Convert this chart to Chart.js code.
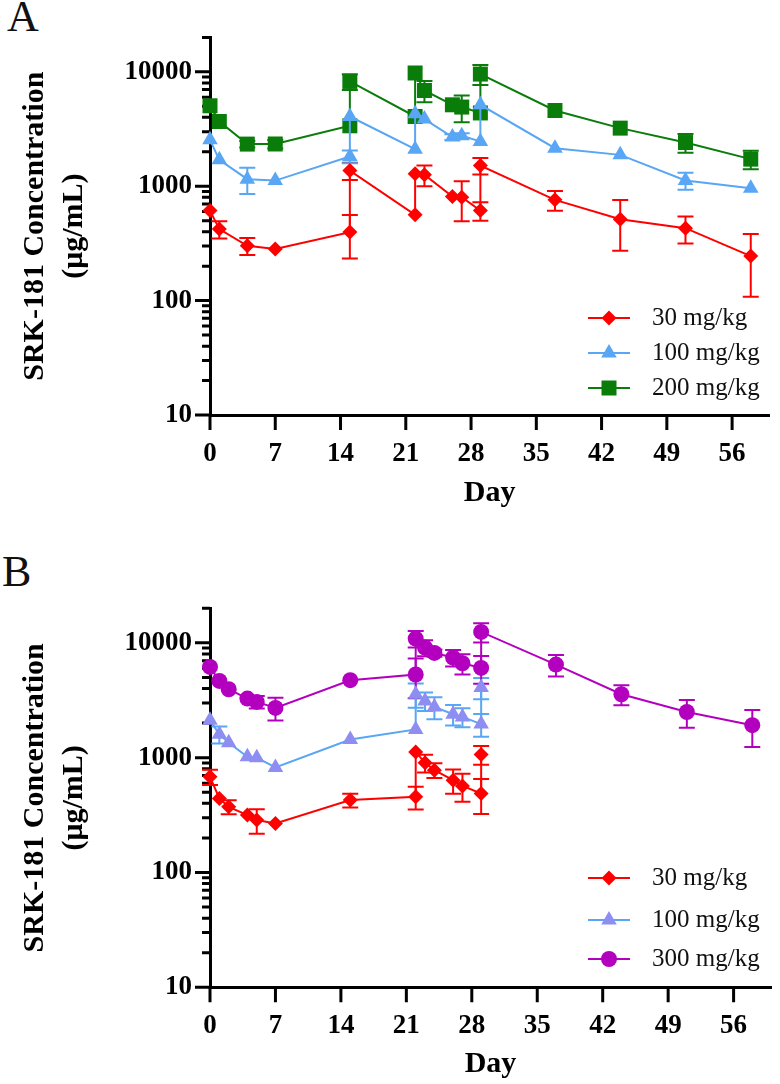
<!DOCTYPE html>
<html>
<head>
<meta charset="utf-8">
<title>SRK-181 concentration</title>
<script src="https://cdn.jsdelivr.net/npm/chart.js@4.4.1/dist/chart.umd.min.js"></script>
<style>
  html, body { margin: 0; padding: 0; background: #fff; }
  body { width: 780px; height: 1084px; position: relative; overflow: hidden; font-family: "Liberation Serif", "Times New Roman", serif; }
  .panel { position: absolute; left: 0; width: 780px; height: 513px; }
  #panelA { top: 0; }
  #panelB { top: 571px; }
  .letter { position: absolute; font-size: 44px; line-height: 1; color: #111; }
</style>
</head>
<body>
<div class="letter" style="left:7px; top:-5px;">A</div>
<div class="letter" style="left:2px; top:550px;">B</div>
<div class="panel" id="panelA"><canvas id="chartA"></canvas></div>
<div class="panel" id="panelB"><canvas id="chartB"></canvas></div>
<script>
// Axis ticks
const xTicks = [0, 7, 14, 21, 28, 35, 42, 49, 56];
const yTicks = [10, 100, 1000, 10000];
const yMinorTicks = [
  20, 30, 40, 50, 60, 70, 80, 90,
  200, 300, 400, 500, 600, 700, 800, 900,
  2000, 3000, 4000, 5000, 6000, 7000, 8000, 9000,
  20000,
];
const yTitle = ["SRK-181 Concentration", "(\u03bcg/mL)"];

// Panel A: sampling days and mean / SD per dose
const daysA = [0, 1, 4, 7, 15, 15, 22, 22, 23, 26, 27, 29, 29, 37, 44, 51, 58];
const labelsA = ["30 mg/kg", "100 mg/kg", "200 mg/kg"];
const a30 = [612, 422, 301, 283, 397, 1370, 563, 1283, 1260, 813, 800, 612, 1517, 760, 515, 430, 245];
const a30Sd = [0, 72, 51, 0, 163, 237, 0, 0, 260, 0, 305, 112, 250, 150, 242, 115, 137];
const a100 = [2545, 1700, 1153, 1120, 1820, 4070, 2110, 4300, 3860, 2690, 2760, 2460, 5150, 2150, 1880, 1122, 960];
const a100Sd = [0, 0, 300, 0, 235, 0, 0, 0, 0, 150, 150, 0, 0, 0, 0, 190, 0];
const a200 = [5050, 3680, 2335, 2340, 3375, 8240, 4070, 9770, 6870, 5150, 4920, 4370, 9560, 4590, 3220, 2410, 1725];
const a200Sd = [0, 0, 150, 200, 0, 1300, 0, 0, 1450, 0, 1300, 0, 1900, 0, 0, 450, 320];

// Panel B
const daysB = [0, 1, 2, 4, 5, 7, 15, 22, 22, 23, 24, 26, 27, 29, 29];
const daysB300 = [0, 1, 2, 4, 5, 7, 15, 22, 22, 23, 24, 26, 27, 29, 29, 37, 44, 51, 58];
const labelsB = ["30 mg/kg", "100 mg/kg", "300 mg/kg"];
const b30 = [681, 442, 373, 316, 286, 267, 427, 456, 1122, 902, 779, 637, 568, 488, 1066];
const b30Sd = [104, 0, 52, 0, 69, 0, 58, 102, 0, 160, 115, 153, 155, 165, 200];
const b100 = [2120, 1600, 1347, 1017, 1000, 822, 1440, 1760, 3570, 3120, 2765, 2390, 2265, 1960, 4080];
const b100Sd = [0, 270, 0, 0, 0, 0, 0, 0, 850, 575, 600, 480, 425, 440, 860];
const b300 = [6170, 4660, 3945, 3270, 3060, 2713, 4730, 5300, 10900, 9100, 8170, 7450, 6640, 6050, 12450, 6470, 3570, 2500, 1920];
const b300Sd = [0, 0, 0, 0, 380, 610, 0, 2000, 1800, 1450, 600, 1230, 1330, 1650, 2360, 1375, 705, 680, 680];

const red = "#ff0000";
const blue = "#58a6f4";
const green = "#0a7c0a";
const purple = "#b300bf";
const lavender = "#8e8ef2";

Chart.defaults.font.family = "'Liberation Serif', 'Times New Roman', serif";
Chart.defaults.color = "#000";

// mean +/- SD bars, drawn under the markers
const errorBarPlugin = {
  id: "errorBars",
  beforeDatasetsDraw(chart) {
    const { ctx, scales: { x, y } } = chart;
    chart.data.datasets.forEach((ds) => {
      if (!ds.errors) return;
      ctx.save();
      ctx.strokeStyle = ds.borderColor;
      ctx.lineWidth = 2;
      ds.data.forEach((p, i) => {
        const sd = ds.errors[i];
        if (!sd) return;
        const px = x.getPixelForValue(p.x);
        const top = y.getPixelForValue(p.y + sd);
        const low = p.y - sd;
        const bot = low > 0 ? y.getPixelForValue(low) : y.bottom;
        ctx.beginPath();
        ctx.moveTo(px, top);
        ctx.lineTo(px, bot);
        ctx.moveTo(px - 8, top);
        ctx.lineTo(px + 8, top);
        ctx.moveTo(px - 8, bot);
        ctx.lineTo(px + 8, bot);
        ctx.stroke();
      });
      ctx.restore();
    });
  },
};

// outward major/minor tick marks like the original axes
const axisTicksPlugin = {
  id: "axisTicks",
  beforeDatasetsDraw(chart) {
    const { ctx, chartArea, scales: { x, y } } = chart;
    ctx.save();
    ctx.strokeStyle = "#000";
    ctx.lineWidth = 3;
    ctx.beginPath();
    yMinorTicks.forEach((v) => {
      const py = y.getPixelForValue(v);
      ctx.moveTo(chartArea.left, py);
      ctx.lineTo(chartArea.left - 8, py);
    });
    yTicks.forEach((v) => {
      const py = y.getPixelForValue(v);
      ctx.moveTo(chartArea.left, py);
      ctx.lineTo(chartArea.left - 15, py);
    });
    xTicks.forEach((v) => {
      const px = x.getPixelForValue(v);
      ctx.moveTo(px, chartArea.bottom);
      ctx.lineTo(px, chartArea.bottom + 15);
    });
    ctx.stroke();
    ctx.restore();
  },
};

const legendPlugin = {
  id: "pkLegend",
  afterDraw(chart, args, opts) {
    const ctx = chart.ctx;
    ctx.save();
    chart.data.datasets.forEach((ds, i) => {
      const y = opts.rows[i];
      const mid = opts.lineStart + opts.lineLength / 2;
      ctx.strokeStyle = ds.borderColor;
      ctx.lineWidth = 2;
      ctx.beginPath();
      ctx.moveTo(opts.lineStart, y);
      ctx.lineTo(opts.lineStart + opts.lineLength, y);
      ctx.stroke();
      ctx.fillStyle = ds.pointBackgroundColor;
      ctx.strokeStyle = ds.pointBackgroundColor;
      Chart.helpers.drawPoint(ctx, {
        pointStyle: ds.pointStyle,
        radius: ds.pointRadius,
        rotation: 0,
        borderWidth: 0,
      }, mid, y);
      ctx.fillStyle = "#111";
      ctx.font = "25px 'Liberation Serif'";
      ctx.textAlign = "left";
      ctx.textBaseline = "middle";
      ctx.fillText(ds.label, opts.textX, y);
    });
    ctx.restore();
  },
};

function makeDataset(label, days, values, sd, lineColor, fillColor, pointStyle, radius) {
  return {
    label: label,
    data: days.map((d, i) => ({ x: d, y: values[i] })),
    errors: sd,
    showLine: true,
    borderColor: lineColor,
    borderWidth: 2,
    tension: 0,
    clip: false,
    pointStyle: pointStyle,
    pointRadius: radius,
    pointHoverRadius: radius,
    pointBackgroundColor: fillColor,
    pointBorderColor: fillColor,
    pointBorderWidth: 0,
  };
}

function makePanel(canvasId, datasets, padTop, xAxisHeight, legendRows) {
  return new Chart(document.getElementById(canvasId), {
    type: "scatter",
    data: { datasets: datasets },
    plugins: [axisTicksPlugin, errorBarPlugin, legendPlugin],
    options: {
      animation: false,
      responsive: true,
      maintainAspectRatio: false,
      events: [],
      layout: { padding: { top: padTop, right: 2, left: 0, bottom: 0 } },
      plugins: {
        legend: { display: false },
        tooltip: { enabled: false },
        pkLegend: { rows: legendRows, lineStart: 588, lineLength: 42, textX: 652 },
      },
      scales: {
        x: {
          type: "linear",
          min: 0,
          max: 60,
          afterBuildTicks: (s) => { s.ticks = xTicks.map((v) => ({ value: v })); },
          afterFit: (s) => { s.height = xAxisHeight; },
          grid: { display: false, drawTicks: false },
          border: { display: true, color: "#000", width: 3 },
          ticks: {
            color: "#000",
            font: { size: 27, weight: "bold" },
            padding: 23,
            autoSkip: false,
            maxRotation: 0,
            callback: (v) => String(v),
          },
          title: {
            display: true,
            text: "Day",
            color: "#000",
            font: { size: 30, weight: "bold" },
            padding: { top: 0, bottom: 2 },
          },
        },
        y: {
          type: "logarithmic",
          min: 10,
          max: 20000,
          afterBuildTicks: (s) => { s.ticks = yTicks.map((v) => ({ value: v })); },
          afterFit: (s) => { s.width = 210; },
          grid: { display: false, drawTicks: false },
          border: { display: true, color: "#000", width: 3 },
          ticks: {
            color: "#000",
            font: { size: 27, weight: "bold" },
            padding: 18,
            callback: (v) => String(v),
          },
          title: {
            display: true,
            text: yTitle,
            color: "#000",
            font: { size: 30, weight: "bold", lineHeight: 1.3 },
            padding: { top: 16, bottom: 0 },
          },
        },
      },
    },
  });
}

makePanel("chartA", [
  makeDataset(labelsA[0], daysA, a30, a30Sd, red, red, "rectRot", 7.5),
  makeDataset(labelsA[1], daysA, a100, a100Sd, blue, blue, "triangle", 9),
  makeDataset(labelsA[2], daysA, a200, a200Sd, green, green, "rect", 10.6),
], 37.4, 98, [318, 353, 388]);

makePanel("chartB", [
  makeDataset(labelsB[0], daysB, b30, b30Sd, red, red, "rectRot", 7.5),
  makeDataset(labelsB[1], daysB, b100, b100Sd, blue, lavender, "triangle", 9),
  makeDataset(labelsB[2], daysB300, b300, b300Sd, purple, purple, "circle", 8),
], 37.3, 96.7, [307, 349, 388]);
</script>
</body>
</html>
